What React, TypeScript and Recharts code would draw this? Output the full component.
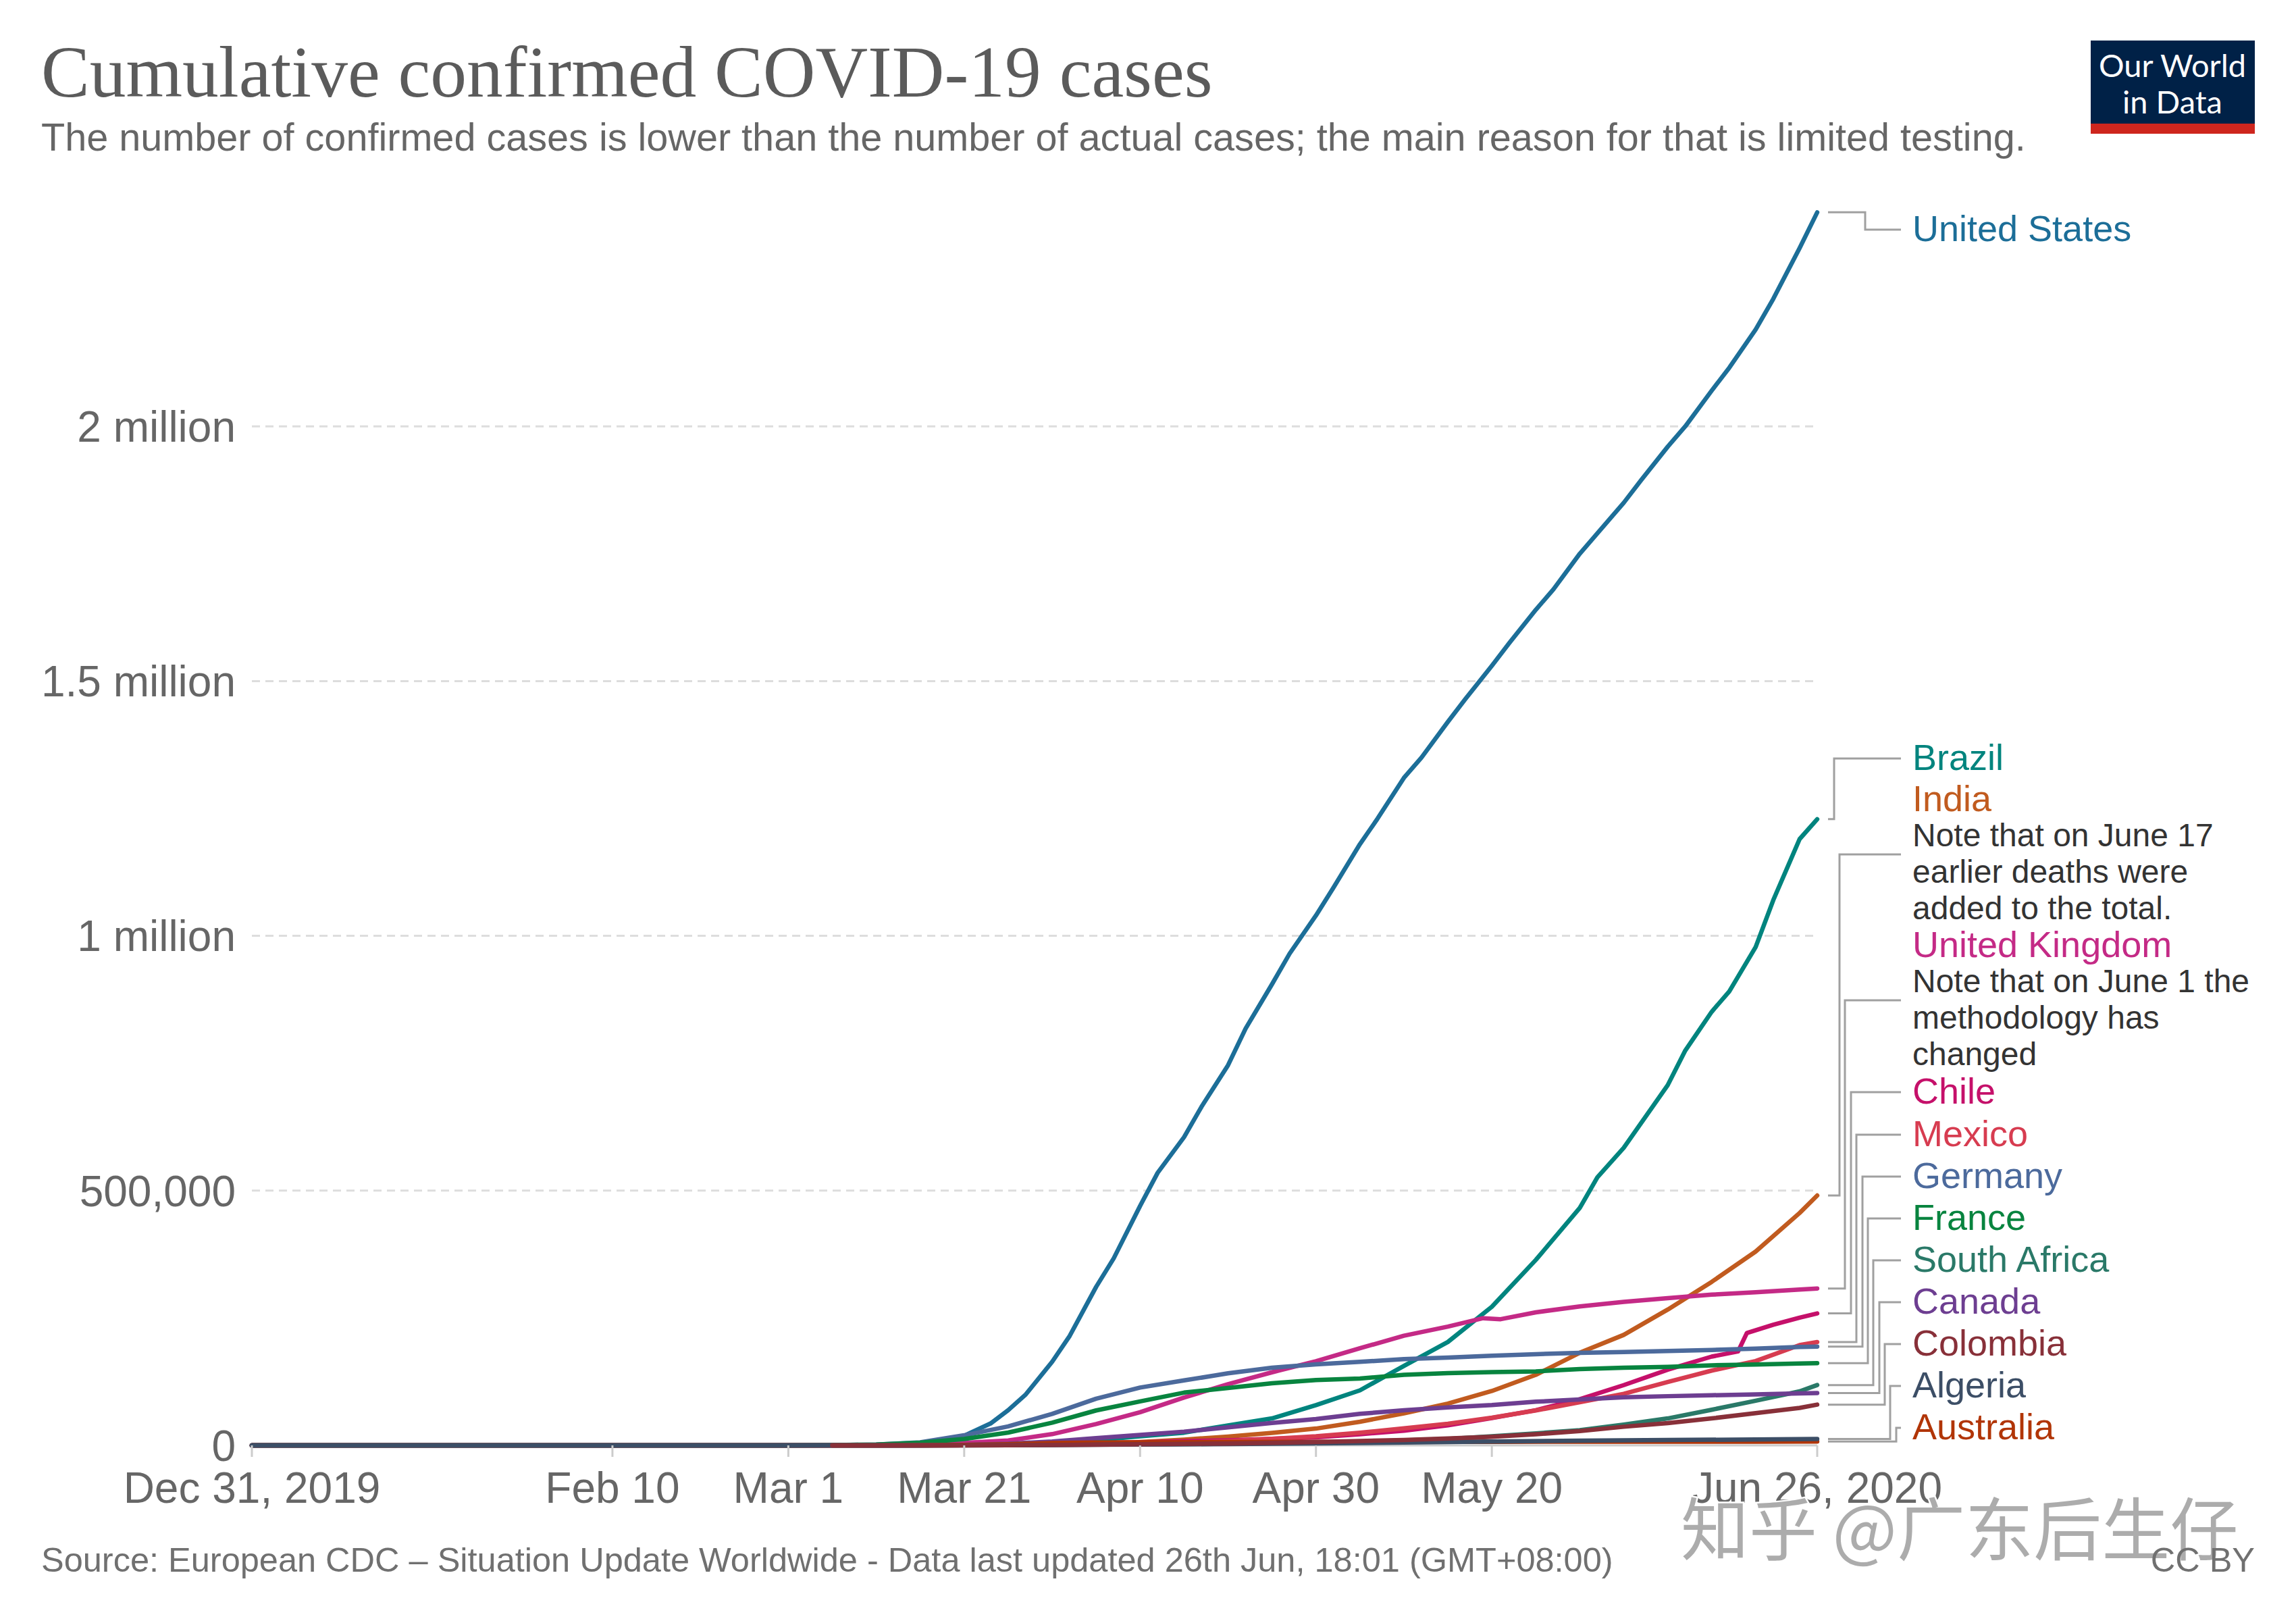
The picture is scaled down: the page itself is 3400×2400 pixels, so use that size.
import React from 'react'
import { LineChart, Line, XAxis, YAxis, CartesianGrid } from 'recharts'

type Point = [number, number]

const SANS = '"Liberation Sans", Arial, sans-serif'

// x values are days counted from Dec 31, 2019
const xTickDays = [0, 41, 61, 81, 101, 121, 141, 178]
const xTickLabels = ['Dec 31, 2019', 'Feb 10', 'Mar 1', 'Mar 21', 'Apr 10', 'Apr 30', 'May 20', 'Jun 26, 2020']
const yTicks = [0, 500000, 1000000, 1500000, 2000000]
const yTickLabels = ['0', '500,000', '1 million', '1.5 million', '2 million']

const unitedStates: Point[] = [
  [0, 0], [61, 0], [66, 300], [71, 1000], [76, 3500], [81, 19000], [84, 43000], [86, 69000], [88, 100000],
  [91, 164000], [93, 215000], [96, 311000], [98, 367000], [101, 470000], [103, 535000], [106, 605000],
  [108, 665000], [111, 746000], [113, 818000], [116, 905000], [118, 965000], [121, 1040000], [123, 1095000],
  [126, 1180000], [128, 1230000], [131, 1310000], [133, 1350000], [136, 1420000], [138, 1465000],
  [141, 1530000], [143, 1575000], [146, 1640000], [148, 1680000], [151, 1750000], [153, 1790000],
  [156, 1850000], [158, 1895000], [161, 1960000], [163, 2000000], [166, 2070000], [168, 2115000],
  [171, 2190000], [173, 2250000], [176, 2350000], [178, 2420000],
]
const brazil: Point[] = [
  [0, 0], [76, 0], [81, 1000], [86, 2400], [91, 5700], [96, 10300], [101, 18000], [106, 25000], [111, 39000],
  [116, 53000], [121, 79000], [126, 108000], [131, 156000], [136, 203000], [141, 272000], [146, 364000],
  [151, 466000], [153, 526000], [156, 584000], [161, 707000], [163, 775000], [166, 851000], [168, 891000],
  [171, 978000], [173, 1070000], [176, 1190000], [178, 1229000],
]
const india: Point[] = [
  [0, 0], [76, 0], [81, 300], [86, 700], [91, 1400], [96, 3600], [101, 6700], [106, 11400], [111, 17300],
  [116, 24500], [121, 33000], [126, 46400], [131, 62900], [136, 81900], [141, 106800], [146, 138500],
  [151, 181800], [156, 216900], [161, 266600], [166, 320900], [171, 380500], [176, 456200], [178, 490400],
]
const unitedKingdom: Point[] = [
  [0, 0], [61, 0], [71, 460], [76, 1500], [81, 5000], [86, 9500], [91, 22100], [96, 41900], [101, 65100],
  [106, 93900], [111, 120100], [116, 143500], [121, 165200], [126, 190600], [131, 215300], [136, 233200],
  [140, 249600], [142, 247700], [146, 261200], [151, 272800], [156, 281700], [161, 289100], [166, 295800],
  [171, 300500], [176, 305800], [178, 307980],
]
const chile: Point[] = [
  [0, 0], [71, 0], [76, 150], [81, 430], [86, 1300], [91, 2700], [96, 4500], [101, 5900], [106, 8300],
  [111, 10100], [116, 12900], [121, 16000], [126, 22000], [131, 28900], [136, 39500], [141, 53600],
  [146, 69100], [151, 90600], [156, 118300], [161, 148500], [166, 174300], [169, 184400], [170, 220600],
  [173, 236700], [176, 250800], [178, 259100],
]
const mexico: Point[] = [
  [0, 0], [76, 0], [81, 200], [86, 480], [91, 1100], [96, 2100], [101, 3400], [106, 5400], [111, 8300],
  [116, 12900], [121, 17800], [126, 24900], [131, 33500], [136, 42600], [141, 54300], [146, 68600],
  [151, 84600], [156, 101200], [161, 124300], [166, 146800], [171, 165500], [176, 196800], [178, 202900],
]
const germany: Point[] = [
  [0, 0], [61, 100], [66, 500], [71, 1600], [76, 6000], [81, 19800], [86, 37300], [91, 61900], [96, 91700],
  [101, 113500], [106, 127500], [111, 141400], [116, 152400], [121, 159100], [126, 163900], [131, 169200],
  [136, 172200], [141, 176000], [146, 179000], [151, 181500], [156, 183300], [161, 185400], [166, 187200],
  [171, 189800], [176, 193200], [178, 193800],
]
const france: Point[] = [
  [0, 0], [61, 130], [66, 420], [71, 1780], [76, 5400], [81, 12600], [86, 25200], [91, 44500], [96, 68600],
  [101, 86300], [106, 103600], [111, 112600], [116, 122000], [121, 128400], [126, 131300], [131, 138400],
  [136, 141900], [141, 143800], [146, 145300], [151, 149700], [156, 152400], [161, 154200], [166, 157200],
  [171, 158600], [176, 160700], [178, 161300],
]
const southAfrica: Point[] = [
  [0, 0], [76, 0], [81, 240], [86, 900], [91, 1350], [96, 1650], [101, 2000], [106, 2500], [111, 3300],
  [116, 4400], [121, 5350], [126, 7200], [131, 10000], [136, 12700], [141, 18000], [146, 23600], [151, 30000],
  [156, 40800], [161, 52900], [166, 70000], [171, 87700], [176, 106100], [178, 118400],
]
const canada: Point[] = [
  [0, 0], [66, 50], [71, 90], [76, 420], [81, 1100], [86, 3400], [91, 7700], [96, 14400], [101, 20700],
  [106, 27000], [111, 35600], [116, 44000], [121, 51600], [126, 61900], [131, 68900], [136, 74600],
  [141, 79100], [146, 85700], [151, 90200], [156, 94300], [161, 96600], [166, 98400], [171, 100200],
  [176, 102200], [178, 102800],
]
const colombia: Point[] = [
  [66, 0], [71, 10], [76, 60], [81, 160], [86, 470], [91, 900], [96, 1400], [101, 2200], [106, 3000],
  [111, 3800], [116, 5100], [121, 6500], [126, 8600], [131, 10500], [136, 13600], [141, 16900], [146, 21900],
  [151, 28200], [156, 36600], [161, 43700], [166, 53000], [171, 63300], [176, 73600], [178, 80000],
]
const algeria: Point[] = [
  [0, 0], [61, 0], [71, 20], [81, 90], [86, 300], [91, 700], [96, 1300], [101, 1800], [111, 2700],
  [121, 4000], [131, 5700], [141, 7700], [151, 9300], [161, 10500], [171, 11600], [178, 12700],
]
const australia: Point[] = [
  [0, 0], [61, 30], [71, 130], [76, 300], [81, 1000], [86, 2400], [91, 4600], [96, 5700], [101, 6100],
  [111, 6600], [121, 6800], [141, 7100], [161, 7300], [171, 7400], [178, 7600],
]

const indiaNote = ['Note that on June 17', 'earlier deaths were', 'added to the total.']
const ukNote = ['Note that on June 1 the', 'methodology has', 'changed']

// label column on the right: first-line centre and connector elbow x
const LABEL_X = 2832
const NOTE_GAP = 54

type Series = {
  name: string
  points: Point[]
  color: string
  notes: string[]
  row: number
  elbow: number
}

// listed in drawing order (last one ends up on top)
const series: Series[] = [
  { name: 'United States', points: unitedStates, color: '#1c6e98', notes: [], row: 338, elbow: 2762 },
  { name: 'Brazil', points: brazil, color: '#00847e', notes: [], row: 1121, elbow: 2716 },
  { name: 'India', points: india, color: '#c15b1f', notes: indiaNote, row: 1182, elbow: 2724 },
  { name: 'United Kingdom', points: unitedKingdom, color: '#c42a86', notes: ukNote, row: 1398, elbow: 2732 },
  { name: 'Chile', points: chile, color: '#c5106a', notes: [], row: 1615, elbow: 2741 },
  { name: 'Mexico', points: mexico, color: '#d73c50', notes: [], row: 1678, elbow: 2749 },
  { name: 'Germany', points: germany, color: '#4c6a9c', notes: [], row: 1740, elbow: 2758 },
  { name: 'France', points: france, color: '#08843f', notes: [], row: 1802, elbow: 2766 },
  { name: 'South Africa', points: southAfrica, color: '#2a7968', notes: [], row: 1864, elbow: 2774 },
  { name: 'Canada', points: canada, color: '#6d3e91', notes: [], row: 1926, elbow: 2783 },
  { name: 'Australia', points: australia, color: '#b13507', notes: [], row: 2112, elbow: 2808 },
  { name: 'Algeria', points: algeria, color: '#3c4e66', notes: [], row: 2050, elbow: 2799 },
  { name: 'Colombia', points: colombia, color: '#883039', notes: [], row: 1988, elbow: 2791 },
]

const toRows = (pts: Point[]) => pts.map(([day, value]) => ({ day, value }))

const formatX = (v: number) => xTickLabels[xTickDays.indexOf(v)] ?? ''
const formatY = (v: number) => yTickLabels[yTicks.indexOf(v)] ?? ''

// connector + name (and note) drawn at the last point of a line
function endTag(p: any, s: Series) {
  if (p.index !== s.points.length - 1) return <g />
  const x = p.viewBox?.x ?? p.x
  const y = p.viewBox?.y ?? p.y
  const mid = s.row + (s.notes.length * NOTE_GAP) / 2 + 2
  return (
    <g>
      <polyline
        points={`${x + 16},${y} ${s.elbow},${y} ${s.elbow},${mid} ${LABEL_X - 17},${mid}`}
        fill="none"
        stroke="#a0a0a0"
        strokeWidth={3}
      />
      <text x={LABEL_X} y={s.row + 19} fill={s.color} fontSize={54} fontFamily={SANS}>
        {s.name}
      </text>
      {s.notes.map((n, i) => (
        <text key={i} x={LABEL_X} y={s.row + (i + 1) * NOTE_GAP + 17} fill="#333" fontSize={48} fontFamily={SANS}>
          {n}
        </text>
      ))}
    </g>
  )
}

const App = () => {
  return (
    <div style={{ position: 'absolute', left: 0, top: 0, width: 3400, height: 2400, background: '#fff' }}>
      <div style={{ position: 'absolute', left: 0, top: 0 }}>
        <LineChart width={3400} height={2400} margin={{ top: 254, right: 709, bottom: 0, left: 0 }}>
          <CartesianGrid
            vertical={false}
            horizontalValues={[500000, 1000000, 1500000, 2000000]}
            stroke="#dddddd"
            strokeWidth={3}
            strokeDasharray="12 8"
          />
          <CartesianGrid vertical={false} horizontalValues={[0]} stroke="#cccccc" strokeWidth={3} />
          <XAxis
            type="number"
            dataKey="day"
            domain={[0, 178]}
            ticks={xTickDays}
            interval={0}
            height={260}
            axisLine={false}
            tickSize={17}
            tickMargin={23}
            tickLine={{ stroke: '#cccccc', strokeWidth: 3 }}
            tickFormatter={formatX}
            tick={{ fill: '#666', fontSize: 64, fontFamily: SANS }}
          />
          <YAxis
            type="number"
            domain={[0, 2500000]}
            ticks={yTicks}
            interval={0}
            width={373}
            axisLine={false}
            tickLine={false}
            tickSize={0}
            tickMargin={24}
            tickFormatter={formatY}
            tick={{ fill: '#666', fontSize: 64, fontFamily: SANS }}
          />
          {series.map((s) => (
            <Line
              key={s.name}
              name={s.name}
              data={toRows(s.points)}
              dataKey="value"
              type="linear"
              stroke={s.color}
              strokeWidth={6.5}
              strokeLinecap="round"
              strokeLinejoin="round"
              dot={false}
              activeDot={false}
              isAnimationActive={false}
              label={(p: any) => endTag(p, s)}
            />
          ))}
        </LineChart>
      </div>
      <svg
        width={3400}
        height={2400}
        style={{ position: 'absolute', left: 0, top: 0, pointerEvents: 'none' }}
      >
        <text x={61} y={143} fill="#5b5b5b" fontSize={107.5} fontFamily='"Liberation Serif", "Times New Roman", serif'>
          Cumulative confirmed COVID-19 cases
        </text>
        <text x={61} y={223} fill="#666" fontSize={57.6} fontFamily={SANS}>
          The number of confirmed cases is lower than the number of actual cases; the main reason for that is limited testing.
        </text>

        <rect x={3096} y={60} width={243} height={138} fill="#002147" />
        <rect x={3096} y={183} width={243} height={15} fill="#ce261e" />
        <text x={3217} y={114} fill="#fff" fontSize={47} fontFamily="Lato, sans-serif" textAnchor="middle">
          Our World
        </text>
        <text x={3217} y={168} fill="#fff" fontSize={47} fontFamily="Lato, sans-serif" textAnchor="middle">
          in Data
        </text>

        <text x={61} y={2327} fill="#707070" fontSize={50.5} fontFamily={SANS}>
          Source: European CDC – Situation Update Worldwide - Data last updated 26th Jun, 18:01 (GMT+08:00)
        </text>

        <text
          x={2489}
          y={2302}
          fill="#acacac"
          stroke="#fff"
          strokeWidth={5}
          paintOrder="stroke"
          fontSize={101}
          fontFamily='"Noto Sans CJK SC", sans-serif'
        >
          知乎 @广东后生仔
        </text>
        <text x={3339} y={2327} fill="#707070" fontSize={50.5} fontFamily={SANS} textAnchor="end">
          CC BY
        </text>
      </svg>
    </div>
  )
}

export default App
